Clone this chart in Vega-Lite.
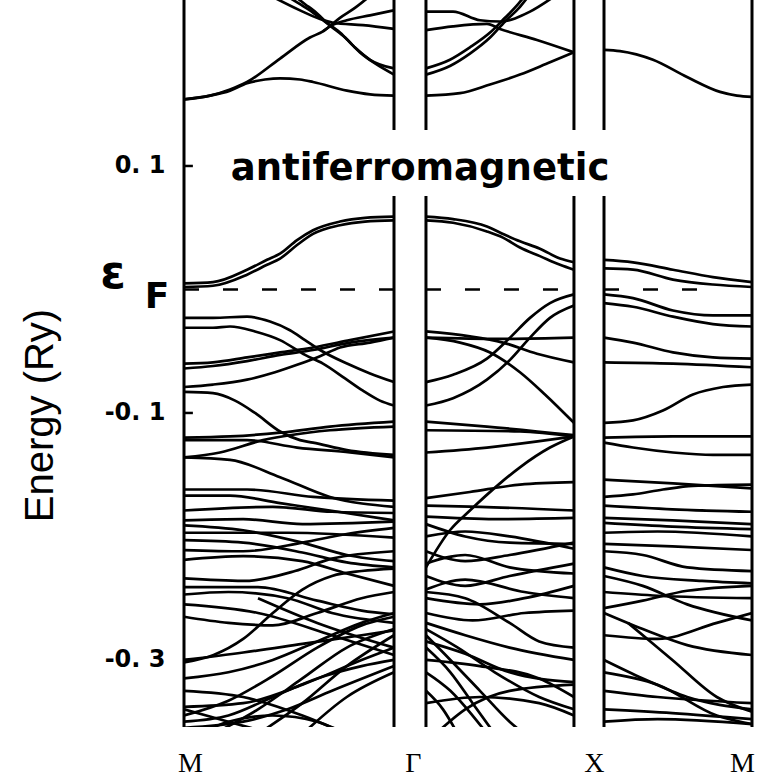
{
 "$schema": "https://vega.github.io/schema/vega-lite/v6.json",
 "width": 568, "height": 727,
 "autosize": {"type": "none"},
 "padding": {"left": 184, "top": 0, "right": 5, "bottom": 53},
 "background": "white",
 "config": {"view": {"stroke": null}},
 "datasets": {
  "bands": [
   {"b":"A1","k":0,"e":0.154},{"b":"A1","k":0.176,"e":0.157},{"b":"A1","k":0.311,"e":0.162},{"b":"A1","k":0.426,"e":0.168},{"b":"A1","k":0.649,"e":0.187},{"b":"A1","k":0.851,"e":0.204},{"b":"A1","k":0.939,"e":0.209},{"b":"A1","k":1.054,"e":0.220},{"b":"A1","k":1.155,"e":0.228},{"b":"A1","k":1.27,"e":0.239},
   {"b":"A6","k":0.939,"e":0.209},{"b":"A6","k":1.0,"e":0.214},{"b":"A6","k":1.1,"e":0.218},{"b":"A6","k":1.257,"e":0.222},{"b":"A6","k":1.419,"e":0.226},
   {"b":"A2","k":0,"e":0.154},{"b":"A2","k":0.176,"e":0.157},{"b":"A2","k":0.311,"e":0.161},{"b":"A2","k":0.426,"e":0.167},{"b":"A2","k":0.547,"e":0.170},{"b":"A2","k":0.649,"e":0.171},{"b":"A2","k":0.784,"e":0.170},{"b":"A2","k":0.872,"e":0.168},{"b":"A2","k":1.101,"e":0.161},{"b":"A2","k":1.257,"e":0.158},{"b":"A2","k":1.419,"e":0.157},
   {"b":"A3","k":0.716,"e":0.236},{"b":"A3","k":0.784,"e":0.231},{"b":"A3","k":0.851,"e":0.226},{"b":"A3","k":0.939,"e":0.218},{"b":"A3","k":1.054,"e":0.208},{"b":"A3","k":1.155,"e":0.196},{"b":"A3","k":1.257,"e":0.186},{"b":"A3","k":1.419,"e":0.179},
   {"b":"A4","k":0.764,"e":0.236},{"b":"A4","k":0.818,"e":0.231},{"b":"A4","k":0.885,"e":0.225},{"b":"A4","k":0.973,"e":0.215},{"b":"A4","k":1.088,"e":0.204},{"b":"A4","k":1.189,"e":0.192},{"b":"A4","k":1.291,"e":0.183},{"b":"A4","k":1.419,"e":0.174},
   {"b":"A5","k":0.615,"e":0.236},{"b":"A5","k":0.784,"e":0.226},{"b":"A5","k":0.919,"e":0.219},{"b":"A5","k":1.007,"e":0.216},{"b":"A5","k":1.209,"e":0.214},{"b":"A5","k":1.419,"e":0.211},
   {"b":"A7","k":0,"e":0.005},{"b":"A7","k":0.196,"e":0.006},{"b":"A7","k":0.426,"e":0.016},{"b":"A7","k":0.561,"e":0.024},{"b":"A7","k":0.649,"e":0.029},{"b":"A7","k":0.764,"e":0.040},{"b":"A7","k":0.872,"e":0.048},{"b":"A7","k":1.054,"e":0.055},{"b":"A7","k":1.223,"e":0.058},{"b":"A7","k":1.419,"e":0.059},
   {"b":"A8","k":0,"e":0.002},{"b":"A8","k":0.196,"e":0.003},{"b":"A8","k":0.426,"e":0.012},{"b":"A8","k":0.561,"e":0.020},{"b":"A8","k":0.649,"e":0.025},{"b":"A8","k":0.764,"e":0.036},{"b":"A8","k":0.872,"e":0.045},{"b":"A8","k":1.054,"e":0.052},{"b":"A8","k":1.223,"e":0.055},{"b":"A8","k":1.419,"e":0.056},
   {"b":"A9","k":0,"e":-0.023},{"b":"A9","k":0.196,"e":-0.023},{"b":"A9","k":0.426,"e":-0.022},{"b":"A9","k":0.581,"e":-0.026},{"b":"A9","k":0.716,"e":-0.033},{"b":"A9","k":0.818,"e":-0.041},{"b":"A9","k":0.919,"e":-0.049},{"b":"A9","k":1.101,"e":-0.060},{"b":"A9","k":1.257,"e":-0.068},{"b":"A9","k":1.419,"e":-0.075},
   {"b":"A10","k":0,"e":-0.031},{"b":"A10","k":0.196,"e":-0.031},{"b":"A10","k":0.311,"e":-0.030},{"b":"A10","k":0.48,"e":-0.034},{"b":"A10","k":0.649,"e":-0.041},{"b":"A10","k":0.818,"e":-0.053},{"b":"A10","k":0.939,"e":-0.060},{"b":"A10","k":1.088,"e":-0.072},{"b":"A10","k":1.209,"e":-0.082},{"b":"A10","k":1.324,"e":-0.090},{"b":"A10","k":1.419,"e":-0.094},
   {"b":"A11","k":0,"e":-0.060},{"b":"A11","k":0.196,"e":-0.059},{"b":"A11","k":0.426,"e":-0.055},{"b":"A11","k":0.649,"e":-0.051},{"b":"A11","k":0.872,"e":-0.047},{"b":"A11","k":1.122,"e":-0.041},{"b":"A11","k":1.419,"e":-0.034},
   {"b":"A12","k":0,"e":-0.064},{"b":"A12","k":0.196,"e":-0.062},{"b":"A12","k":0.426,"e":-0.058},{"b":"A12","k":0.649,"e":-0.053},{"b":"A12","k":0.872,"e":-0.049},{"b":"A12","k":1.122,"e":-0.043},{"b":"A12","k":1.419,"e":-0.039},
   {"b":"A13","k":0,"e":-0.079},{"b":"A13","k":0.196,"e":-0.077},{"b":"A13","k":0.426,"e":-0.073},{"b":"A13","k":0.615,"e":-0.067},{"b":"A13","k":0.764,"e":-0.061},{"b":"A13","k":0.919,"e":-0.054},{"b":"A13","k":1.054,"e":-0.047},{"b":"A13","k":1.257,"e":-0.043},{"b":"A13","k":1.419,"e":-0.039},
   {"b":"A14","k":0,"e":-0.083},{"b":"A14","k":0.196,"e":-0.084},{"b":"A14","k":0.345,"e":-0.090},{"b":"A14","k":0.48,"e":-0.100},{"b":"A14","k":0.649,"e":-0.115},{"b":"A14","k":0.784,"e":-0.122},{"b":"A14","k":0.872,"e":-0.124},{"b":"A14","k":1.101,"e":-0.130},{"b":"A14","k":1.419,"e":-0.134},
   {"b":"A15","k":0,"e":-0.120},{"b":"A15","k":0.311,"e":-0.119},{"b":"A15","k":0.649,"e":-0.116},{"b":"A15","k":0.986,"e":-0.111},{"b":"A15","k":1.419,"e":-0.107},
   {"b":"A16","k":0,"e":-0.122},{"b":"A16","k":0.426,"e":-0.122},{"b":"A16","k":0.764,"e":-0.128},{"b":"A16","k":1.122,"e":-0.132},{"b":"A16","k":1.419,"e":-0.136},
   {"b":"A17","k":0,"e":-0.136},{"b":"A17","k":0.243,"e":-0.132},{"b":"A17","k":0.534,"e":-0.122},{"b":"A17","k":0.986,"e":-0.114},{"b":"A17","k":1.419,"e":-0.111},
   {"b":"A18","k":0,"e":-0.136},{"b":"A18","k":0.311,"e":-0.138},{"b":"A18","k":0.649,"e":-0.152},{"b":"A18","k":0.986,"e":-0.168},{"b":"A18","k":1.419,"e":-0.176},
   {"b":"A19","k":0,"e":-0.162},{"b":"A19","k":0.426,"e":-0.162},{"b":"A19","k":0.872,"e":-0.168},{"b":"A19","k":1.419,"e":-0.171},
   {"b":"A20","k":0,"e":-0.167},{"b":"A20","k":0.311,"e":-0.167},{"b":"A20","k":0.649,"e":-0.173},{"b":"A20","k":0.986,"e":-0.179},{"b":"A20","k":1.419,"e":-0.187},
   {"b":"AL1","k":0,"e":-0.179},{"b":"AL1","k":0.6,"e":-0.176},{"b":"AL1","k":1.0,"e":-0.180},{"b":"AL1","k":1.419,"e":-0.181},
   {"b":"AL2","k":0,"e":-0.187},{"b":"AL2","k":0.4,"e":-0.186},{"b":"AL2","k":0.8,"e":-0.190},{"b":"AL2","k":1.419,"e":-0.188},
   {"b":"AL3","k":0,"e":-0.191},{"b":"AL3","k":0.4,"e":-0.195},{"b":"AL3","k":0.8,"e":-0.205},{"b":"AL3","k":1.1,"e":-0.215},{"b":"AL3","k":1.419,"e":-0.220},
   {"b":"AL4","k":0,"e":-0.197},{"b":"AL4","k":0.7,"e":-0.197},{"b":"AL4","k":1.419,"e":-0.201},
   {"b":"AL5","k":0,"e":-0.203},{"b":"AL5","k":0.4,"e":-0.205},{"b":"AL5","k":0.8,"e":-0.213},{"b":"AL5","k":1.1,"e":-0.221},{"b":"AL5","k":1.419,"e":-0.225},
   {"b":"AL6","k":0,"e":-0.211},{"b":"AL6","k":0.4,"e":-0.212},{"b":"AL6","k":0.8,"e":-0.205},{"b":"AL6","k":1.1,"e":-0.198},{"b":"AL6","k":1.419,"e":-0.193},
   {"b":"AL7","k":0,"e":-0.219},{"b":"AL7","k":0.4,"e":-0.216},{"b":"AL7","k":0.8,"e":-0.220},{"b":"AL7","k":1.1,"e":-0.230},{"b":"AL7","k":1.419,"e":-0.240},
   {"b":"AL8","k":0,"e":-0.234},{"b":"AL8","k":0.4,"e":-0.236},{"b":"AL8","k":0.75,"e":-0.228},{"b":"AL8","k":1.0,"e":-0.218},{"b":"AL8","k":1.419,"e":-0.212},
   {"b":"AL9","k":0,"e":-0.241},{"b":"AL9","k":0.5,"e":-0.241},{"b":"AL9","k":0.9,"e":-0.252},{"b":"AL9","k":1.2,"e":-0.260},{"b":"AL9","k":1.419,"e":-0.263},
   {"b":"AL10","k":0,"e":-0.247},{"b":"AL10","k":0.3,"e":-0.245},{"b":"AL10","k":0.7,"e":-0.250},{"b":"AL10","k":1.0,"e":-0.262},{"b":"AL10","k":1.419,"e":-0.270},
   {"b":"AL11","k":0,"e":-0.302},{"b":"AL11","k":0.2,"e":-0.296},{"b":"AL11","k":0.4,"e":-0.283},{"b":"AL11","k":0.6,"e":-0.262},{"b":"AL11","k":0.8,"e":-0.243},{"b":"AL11","k":1.0,"e":-0.232},{"b":"AL11","k":1.2,"e":-0.228},{"b":"AL11","k":1.419,"e":-0.226},
   {"b":"AL12","k":0,"e":-0.300},{"b":"AL12","k":0.4,"e":-0.294},{"b":"AL12","k":0.8,"e":-0.287},{"b":"AL12","k":1.2,"e":-0.280},{"b":"AL12","k":1.419,"e":-0.276},
   {"b":"AL13","k":0,"e":-0.345},{"b":"AL13","k":0.3,"e":-0.333},{"b":"AL13","k":0.6,"e":-0.313},{"b":"AL13","k":0.9,"e":-0.290},{"b":"AL13","k":1.2,"e":-0.272},{"b":"AL13","k":1.419,"e":-0.265},
   {"b":"AL14","k":0.2,"e":-0.360},{"b":"AL14","k":0.5,"e":-0.340},{"b":"AL14","k":0.8,"e":-0.315},{"b":"AL14","k":1.1,"e":-0.290},{"b":"AL14","k":1.419,"e":-0.275},
   {"b":"AL15","k":0.5,"e":-0.360},{"b":"AL15","k":0.8,"e":-0.335},{"b":"AL15","k":1.1,"e":-0.305},{"b":"AL15","k":1.419,"e":-0.280},
   {"b":"AL16","k":0,"e":-0.338},{"b":"AL16","k":0.4,"e":-0.335},{"b":"AL16","k":0.8,"e":-0.320},{"b":"AL16","k":1.2,"e":-0.300},{"b":"AL16","k":1.419,"e":-0.290},
   {"b":"AL17","k":0,"e":-0.350},{"b":"AL17","k":0.3,"e":-0.345},{"b":"AL17","k":0.6,"e":-0.330},{"b":"AL17","k":0.9,"e":-0.315},{"b":"AL17","k":1.2,"e":-0.305},{"b":"AL17","k":1.419,"e":-0.300},
   {"b":"AL18","k":0.8,"e":-0.360},{"b":"AL18","k":1.1,"e":-0.330},{"b":"AL18","k":1.419,"e":-0.310},
   {"b":"AL19","k":0,"e":-0.340},{"b":"AL19","k":0.3,"e":-0.350},{"b":"AL19","k":0.6,"e":-0.360},
   {"b":"AL20","k":0,"e":-0.325},{"b":"AL20","k":0.4,"e":-0.330},{"b":"AL20","k":0.8,"e":-0.345},{"b":"AL20","k":1.1,"e":-0.360},
   {"b":"AL22","k":0.5,"e":-0.250},{"b":"AL22","k":0.9,"e":-0.270},{"b":"AL22","k":1.419,"e":-0.290},
   {"b":"AL23","k":0,"e":-0.255},{"b":"AL23","k":0.5,"e":-0.262},{"b":"AL23","k":1.0,"e":-0.280},{"b":"AL23","k":1.419,"e":-0.296},
   {"b":"AL24","k":0,"e":-0.315},{"b":"AL24","k":0.3,"e":-0.310},{"b":"AL24","k":0.6,"e":-0.300},{"b":"AL24","k":0.9,"e":-0.285},{"b":"AL24","k":1.2,"e":-0.270},{"b":"AL24","k":1.419,"e":-0.262},
   {"b":"AL25","k":0,"e":-0.355},{"b":"AL25","k":0.4,"e":-0.350},{"b":"AL25","k":0.7,"e":-0.340},{"b":"AL25","k":1.0,"e":-0.325},{"b":"AL25","k":1.419,"e":-0.305},
   {"b":"AL26","k":0.1,"e":-0.360},{"b":"AL26","k":0.3,"e":-0.350},{"b":"AL26","k":0.6,"e":-0.345},{"b":"AL26","k":0.9,"e":-0.350},{"b":"AL26","k":1.1,"e":-0.360},
   {"b":"AL27","k":0,"e":-0.265},{"b":"AL27","k":0.3,"e":-0.270},{"b":"AL27","k":0.6,"e":-0.272},{"b":"AL27","k":0.9,"e":-0.262},{"b":"AL27","k":1.2,"e":-0.250},{"b":"AL27","k":1.419,"e":-0.245},
   {"b":"B1","k":1.635,"e":0.179},{"b":"B1","k":1.797,"e":0.186},{"b":"B1","k":1.932,"e":0.196},{"b":"B1","k":2.068,"e":0.208},{"b":"B1","k":2.169,"e":0.220},{"b":"B1","k":2.25,"e":0.230},{"b":"B1","k":2.291,"e":0.236},
   {"b":"B2","k":1.635,"e":0.174},{"b":"B2","k":1.797,"e":0.181},{"b":"B2","k":1.932,"e":0.191},{"b":"B2","k":2.068,"e":0.204},{"b":"B2","k":2.169,"e":0.217},{"b":"B2","k":2.264,"e":0.228},{"b":"B2","k":2.318,"e":0.236},
   {"b":"B3","k":1.635,"e":0.157},{"b":"B3","k":1.865,"e":0.159},{"b":"B3","k":2.068,"e":0.166},{"b":"B3","k":2.27,"e":0.174},{"b":"B3","k":2.473,"e":0.184},{"b":"B3","k":2.635,"e":0.192},
   {"b":"B4","k":1.635,"e":0.210},{"b":"B4","k":1.818,"e":0.213},{"b":"B4","k":2.047,"e":0.215},{"b":"B4","k":2.135,"e":0.211},{"b":"B4","k":2.385,"e":0.202},{"b":"B4","k":2.635,"e":0.192},
   {"b":"B5","k":1.635,"e":0.225},{"b":"B5","k":1.818,"e":0.225},{"b":"B5","k":2.0,"e":0.218},{"b":"B5","k":2.135,"e":0.217},{"b":"B5","k":2.338,"e":0.225},{"b":"B5","k":2.486,"e":0.236},
   {"b":"B6","k":1.635,"e":0.059},{"b":"B6","k":1.818,"e":0.057},{"b":"B6","k":2.047,"e":0.051},{"b":"B6","k":2.155,"e":0.045},{"b":"B6","k":2.27,"e":0.039},{"b":"B6","k":2.405,"e":0.033},{"b":"B6","k":2.541,"e":0.025},{"b":"B6","k":2.635,"e":0.022},
   {"b":"B7","k":1.635,"e":0.056},{"b":"B7","k":1.818,"e":0.054},{"b":"B7","k":2.047,"e":0.047},{"b":"B7","k":2.155,"e":0.042},{"b":"B7","k":2.27,"e":0.034},{"b":"B7","k":2.405,"e":0.027},{"b":"B7","k":2.541,"e":0.020},{"b":"B7","k":2.635,"e":0.016},
   {"b":"B8","k":1.635,"e":-0.075},{"b":"B8","k":1.818,"e":-0.069},{"b":"B8","k":2.047,"e":-0.056},{"b":"B8","k":2.203,"e":-0.039},{"b":"B8","k":2.338,"e":-0.023},{"b":"B8","k":2.473,"e":-0.011},{"b":"B8","k":2.635,"e":-0.004},
   {"b":"B9","k":1.635,"e":-0.094},{"b":"B9","k":1.818,"e":-0.088},{"b":"B9","k":2.047,"e":-0.073},{"b":"B9","k":2.203,"e":-0.057},{"b":"B9","k":2.338,"e":-0.039},{"b":"B9","k":2.473,"e":-0.023},{"b":"B9","k":2.635,"e":-0.013},
   {"b":"B10","k":1.635,"e":-0.034},{"b":"B10","k":1.932,"e":-0.038},{"b":"B10","k":2.155,"e":-0.043},{"b":"B10","k":2.385,"e":-0.052},{"b":"B10","k":2.635,"e":-0.059},
   {"b":"B10b","k":1.635,"e":-0.039},{"b":"B10b","k":2.135,"e":-0.040},{"b":"B10b","k":2.635,"e":-0.039},
   {"b":"B11","k":1.635,"e":-0.039},{"b":"B11","k":1.865,"e":-0.043},{"b":"B11","k":2.068,"e":-0.051},{"b":"B11","k":2.27,"e":-0.067},{"b":"B11","k":2.439,"e":-0.085},{"b":"B11","k":2.635,"e":-0.108},
   {"b":"B13","k":1.635,"e":-0.107},{"b":"B13","k":2.047,"e":-0.111},{"b":"B13","k":2.635,"e":-0.118},
   {"b":"B14","k":1.635,"e":-0.114},{"b":"B14","k":2.27,"e":-0.115},{"b":"B14","k":2.635,"e":-0.119},
   {"b":"B15","k":1.635,"e":-0.132},{"b":"B15","k":2.047,"e":-0.128},{"b":"B15","k":2.635,"e":-0.119},
   {"b":"B16","k":1.635,"e":-0.225},{"b":"B16","k":1.797,"e":-0.195},{"b":"B16","k":1.932,"e":-0.179},{"b":"B16","k":2.135,"e":-0.157},{"b":"B16","k":2.27,"e":-0.144},{"b":"B16","k":2.473,"e":-0.128},{"b":"B16","k":2.635,"e":-0.119},
   {"b":"B17","k":1.635,"e":-0.169},{"b":"B17","k":1.932,"e":-0.164},{"b":"B17","k":2.27,"e":-0.158},{"b":"B17","k":2.635,"e":-0.156},
   {"b":"BL1","k":1.635,"e":-0.175},{"b":"BL1","k":2.0,"e":-0.176},{"b":"BL1","k":2.635,"e":-0.179},
   {"b":"BL2","k":1.635,"e":-0.184},{"b":"BL2","k":2.1,"e":-0.186},{"b":"BL2","k":2.635,"e":-0.185},
   {"b":"BL3","k":1.635,"e":-0.190},{"b":"BL3","k":1.9,"e":-0.200},{"b":"BL3","k":2.2,"e":-0.205},{"b":"BL3","k":2.635,"e":-0.206},
   {"b":"BL4","k":1.635,"e":-0.200},{"b":"BL4","k":1.9,"e":-0.196},{"b":"BL4","k":2.2,"e":-0.200},{"b":"BL4","k":2.635,"e":-0.210},
   {"b":"BL5","k":1.635,"e":-0.212},{"b":"BL5","k":1.9,"e":-0.220},{"b":"BL5","k":2.2,"e":-0.215},{"b":"BL5","k":2.635,"e":-0.205},
   {"b":"BL6","k":1.635,"e":-0.222},{"b":"BL6","k":1.9,"e":-0.215},{"b":"BL6","k":2.2,"e":-0.225},{"b":"BL6","k":2.635,"e":-0.230},
   {"b":"BL7","k":1.635,"e":-0.232},{"b":"BL7","k":1.9,"e":-0.240},{"b":"BL7","k":2.2,"e":-0.232},{"b":"BL7","k":2.635,"e":-0.222},
   {"b":"BL8","k":1.635,"e":-0.243},{"b":"BL8","k":1.9,"e":-0.235},{"b":"BL8","k":2.3,"e":-0.245},{"b":"BL8","k":2.635,"e":-0.250},
   {"b":"BL9","k":1.635,"e":-0.250},{"b":"BL9","k":2.0,"e":-0.255},{"b":"BL9","k":2.3,"e":-0.250},{"b":"BL9","k":2.635,"e":-0.240},
   {"b":"BL10","k":1.635,"e":-0.262},{"b":"BL10","k":1.95,"e":-0.268},{"b":"BL10","k":2.3,"e":-0.262},{"b":"BL10","k":2.635,"e":-0.260},
   {"b":"BL11","k":1.635,"e":-0.270},{"b":"BL11","k":1.9,"e":-0.280},{"b":"BL11","k":2.2,"e":-0.290},{"b":"BL11","k":2.635,"e":-0.300},
   {"b":"BL12","k":1.635,"e":-0.275},{"b":"BL12","k":1.85,"e":-0.290},{"b":"BL12","k":2.1,"e":-0.310},{"b":"BL12","k":2.4,"e":-0.330},{"b":"BL12","k":2.635,"e":-0.340},
   {"b":"BL13","k":1.635,"e":-0.280},{"b":"BL13","k":1.8,"e":-0.300},{"b":"BL13","k":2.0,"e":-0.325},{"b":"BL13","k":2.2,"e":-0.350},{"b":"BL13","k":2.3,"e":-0.360},
   {"b":"BL14","k":1.635,"e":-0.285},{"b":"BL14","k":1.9,"e":-0.295},{"b":"BL14","k":2.2,"e":-0.310},{"b":"BL14","k":2.635,"e":-0.318},
   {"b":"BL15","k":1.635,"e":-0.290},{"b":"BL15","k":1.8,"e":-0.310},{"b":"BL15","k":1.95,"e":-0.335},{"b":"BL15","k":2.1,"e":-0.360},
   {"b":"BL16","k":1.635,"e":-0.310},{"b":"BL16","k":1.8,"e":-0.325},{"b":"BL16","k":1.95,"e":-0.345},{"b":"BL16","k":2.05,"e":-0.360},
   {"b":"BL17","k":1.635,"e":-0.325},{"b":"BL17","k":1.75,"e":-0.340},{"b":"BL17","k":1.85,"e":-0.360},
   {"b":"BL18","k":1.635,"e":-0.300},{"b":"BL18","k":2.0,"e":-0.305},{"b":"BL18","k":2.4,"e":-0.315},{"b":"BL18","k":2.635,"e":-0.330},
   {"b":"BL19","k":1.635,"e":-0.335},{"b":"BL19","k":2.0,"e":-0.330},{"b":"BL19","k":2.4,"e":-0.335},{"b":"BL19","k":2.635,"e":-0.345},
   {"b":"BL20","k":1.635,"e":-0.245},{"b":"BL20","k":1.9,"e":-0.250},{"b":"BL20","k":2.2,"e":-0.270},{"b":"BL20","k":2.4,"e":-0.285},{"b":"BL20","k":2.635,"e":-0.290},
   {"b":"BL21","k":1.7,"e":-0.360},{"b":"BL21","k":1.9,"e":-0.340},{"b":"BL21","k":2.2,"e":-0.325},{"b":"BL21","k":2.635,"e":-0.320},
   {"b":"C1","k":2.838,"e":0.194},{"b":"C1","k":2.946,"e":0.193},{"b":"C1","k":3.169,"e":0.186},{"b":"C1","k":3.399,"e":0.172},{"b":"C1","k":3.622,"e":0.160},{"b":"C1","k":3.736,"e":0.157},{"b":"C1","k":3.838,"e":0.156},
   {"b":"C2","k":2.838,"e":0.024},{"b":"C2","k":3.034,"e":0.022},{"b":"C2","k":3.304,"e":0.016},{"b":"C2","k":3.574,"e":0.010},{"b":"C2","k":3.838,"e":0.006},
   {"b":"C3","k":2.838,"e":0.017},{"b":"C3","k":3.034,"e":0.016},{"b":"C3","k":3.304,"e":0.008},{"b":"C3","k":3.574,"e":0.004},{"b":"C3","k":3.838,"e":0.002},
   {"b":"C4","k":2.838,"e":-0.004},{"b":"C4","k":3.034,"e":-0.007},{"b":"C4","k":3.304,"e":-0.017},{"b":"C4","k":3.574,"e":-0.021},{"b":"C4","k":3.838,"e":-0.021},
   {"b":"C5","k":2.838,"e":-0.011},{"b":"C5","k":3.034,"e":-0.014},{"b":"C5","k":3.304,"e":-0.022},{"b":"C5","k":3.574,"e":-0.028},{"b":"C5","k":3.838,"e":-0.030},
   {"b":"C6","k":2.838,"e":-0.039},{"b":"C6","k":3.034,"e":-0.043},{"b":"C6","k":3.304,"e":-0.051},{"b":"C6","k":3.574,"e":-0.055},{"b":"C6","k":3.838,"e":-0.056},
   {"b":"C7","k":2.838,"e":-0.059},{"b":"C7","k":3.304,"e":-0.060},{"b":"C7","k":3.838,"e":-0.063},
   {"b":"C8","k":2.838,"e":-0.108},{"b":"C8","k":3.034,"e":-0.106},{"b":"C8","k":3.236,"e":-0.098},{"b":"C8","k":3.439,"e":-0.085},{"b":"C8","k":3.642,"e":-0.079},{"b":"C8","k":3.838,"e":-0.077},
   {"b":"C9","k":2.838,"e":-0.120},{"b":"C9","k":3.304,"e":-0.119},{"b":"C9","k":3.838,"e":-0.119},
   {"b":"C10","k":2.838,"e":-0.124},{"b":"C10","k":3.034,"e":-0.128},{"b":"C10","k":3.304,"e":-0.132},{"b":"C10","k":3.574,"e":-0.134},{"b":"C10","k":3.838,"e":-0.134},
   {"b":"C11","k":2.838,"e":-0.154},{"b":"C11","k":3.304,"e":-0.157},{"b":"C11","k":3.838,"e":-0.161},
   {"b":"C12","k":2.838,"e":-0.168},{"b":"C12","k":3.034,"e":-0.166},{"b":"C12","k":3.236,"e":-0.162},{"b":"C12","k":3.439,"e":-0.159},{"b":"C12","k":3.838,"e":-0.158},
   {"b":"CL1","k":2.838,"e":-0.175},{"b":"CL1","k":3.3,"e":-0.178},{"b":"CL1","k":3.838,"e":-0.180},
   {"b":"CL2","k":2.838,"e":-0.185},{"b":"CL2","k":3.3,"e":-0.187},{"b":"CL2","k":3.838,"e":-0.190},
   {"b":"CL3","k":2.838,"e":-0.189},{"b":"CL3","k":3.3,"e":-0.192},{"b":"CL3","k":3.838,"e":-0.194},
   {"b":"CL4","k":2.838,"e":-0.197},{"b":"CL4","k":3.2,"e":-0.196},{"b":"CL4","k":3.838,"e":-0.200},
   {"b":"CL5","k":2.838,"e":-0.206},{"b":"CL5","k":3.3,"e":-0.208},{"b":"CL5","k":3.838,"e":-0.211},
   {"b":"CL6","k":2.838,"e":-0.212},{"b":"CL6","k":3.1,"e":-0.215},{"b":"CL6","k":3.4,"e":-0.225},{"b":"CL6","k":3.838,"e":-0.228},
   {"b":"CL7","k":2.838,"e":-0.225},{"b":"CL7","k":3.1,"e":-0.232},{"b":"CL7","k":3.5,"e":-0.236},{"b":"CL7","k":3.838,"e":-0.238},
   {"b":"CL8","k":2.838,"e":-0.258},{"b":"CL8","k":3.1,"e":-0.252},{"b":"CL8","k":3.4,"e":-0.244},{"b":"CL8","k":3.838,"e":-0.240},
   {"b":"CL9","k":2.838,"e":-0.262},{"b":"CL9","k":3.1,"e":-0.275},{"b":"CL9","k":3.4,"e":-0.288},{"b":"CL9","k":3.838,"e":-0.296},
   {"b":"CL10","k":2.838,"e":-0.300},{"b":"CL10","k":3.1,"e":-0.315},{"b":"CL10","k":3.4,"e":-0.330},{"b":"CL10","k":3.838,"e":-0.340},
   {"b":"CL11","k":2.838,"e":-0.325},{"b":"CL11","k":3.2,"e":-0.330},{"b":"CL11","k":3.838,"e":-0.335},
   {"b":"CL12","k":3.0,"e":-0.270},{"b":"CL12","k":3.3,"e":-0.300},{"b":"CL12","k":3.6,"e":-0.330},{"b":"CL12","k":3.838,"e":-0.342},
   {"b":"CL13","k":2.838,"e":-0.340},{"b":"CL13","k":3.3,"e":-0.343},{"b":"CL13","k":3.838,"e":-0.348},
   {"b":"CL14","k":2.838,"e":-0.350},{"b":"CL14","k":3.2,"e":-0.348},{"b":"CL14","k":3.838,"e":-0.352},
   {"b":"CL15","k":2.838,"e":-0.245},{"b":"CL15","k":3.2,"e":-0.248},{"b":"CL15","k":3.838,"e":-0.250},
   {"b":"CL16","k":2.838,"e":-0.280},{"b":"CL16","k":3.2,"e":-0.283},{"b":"CL16","k":3.6,"e":-0.270},{"b":"CL16","k":3.838,"e":-0.262},
   {"b":"CL17","k":2.838,"e":-0.232},{"b":"CL17","k":3.1,"e":-0.240},{"b":"CL17","k":3.4,"e":-0.255},{"b":"CL17","k":3.838,"e":-0.268},
   {"b":"CL18","k":2.838,"e":-0.310},{"b":"CL18","k":3.2,"e":-0.320},{"b":"CL18","k":3.6,"e":-0.345},{"b":"CL18","k":3.838,"e":-0.352}
  ],
  "edges": [{"k":0},{"k":1.419},{"k":1.635},{"k":2.635},{"k":2.838},{"k":3.838}],
  "gaps": [{"k":1.419,"k2":1.635},{"k":2.635,"k2":2.838}],
  "fermi": [{"k":0,"k2":1.419,"e":0},{"k":1.635,"k2":2.635,"e":0},{"k":2.838,"k2":3.49,"e":0}],
  "ticks": [{"k":0,"k2":0.06,"e":0.1},{"k":0,"k2":0.06,"e":-0.1},{"k":0,"k2":0.06,"e":-0.3}],
  "box": [{"k":0.108,"k2":2.93,"e":0.1291,"e2":0.0757}],
  "label": [{"t":"antiferromagnetic","k":1.595,"e":0.0887}],
  "eps": [{"t":"ε","k":-0.48,"e":0.0015}],
  "fsub": [{"t":"F","k":-0.182,"e":-0.015}]
 },
 "layer": [
  {
   "data": {"name": "bands"},
   "mark": {"type": "line", "interpolate": "monotone", "strokeWidth": 2.7, "color": "black", "clip": true},
   "encoding": {
    "x": {"field": "k", "type": "quantitative", "scale": {"domain": [0, 3.838], "nice": false, "zero": false},
     "axis": {"values": [0.04, 1.547, 2.77, 3.77], "labelExpr": "datum.value < 1 ? 'M' : datum.value < 2 ? 'Γ' : datum.value < 3 ? 'X' : 'M'", "domain": false, "ticks": false, "grid": false, "title": null, "labelFont": "Liberation Serif", "labelFontSize": 28, "labelPadding": 22, "labelColor": "black", "labelFlush": false}},
    "y": {"field": "e", "type": "quantitative", "scale": {"domain": [-0.3543, 0.2344], "nice": false, "zero": false},
     "axis": {"values": [0.1, -0.1, -0.3], "labelExpr": "datum.value > 0 ? '0. 1' : datum.value > -0.2 ? '-0. 1' : '-0. 3'", "domain": false, "ticks": false, "grid": false, "labelFont": "DejaVu Sans", "labelFontSize": 24, "labelFontWeight": "bold", "labelPadding": 19, "labelColor": "black", "title": "Energy (Ry)", "titleFont": "Liberation Sans", "titleFontSize": 40, "titleFontWeight": "normal", "titleColor": "black", "titleX": -144, "titleY": 415, "titleAngle": -90, "titleAlign": "center", "titleBaseline": "middle"}},
    "detail": {"field": "b"}
   }
  },
  {
   "data": {"name": "fermi"},
   "mark": {"type": "rule", "strokeWidth": 2.5, "strokeDash": [15, 24], "color": "black"},
   "encoding": {"x": {"field": "k", "type": "quantitative"}, "x2": {"field": "k2"}, "y": {"field": "e", "type": "quantitative"}}
  },
  {
   "data": {"name": "gaps"},
   "mark": {"type": "rect", "color": "white"},
   "encoding": {"x": {"field": "k", "type": "quantitative"}, "x2": {"field": "k2"}, "y": {"datum": 0.2344, "type": "quantitative"}, "y2": {"datum": -0.3543}}
  },
  {
   "data": {"name": "edges"},
   "mark": {"type": "rule", "strokeWidth": 3, "color": "black"},
   "encoding": {"x": {"field": "k", "type": "quantitative"}}
  },
  {
   "data": {"name": "ticks"},
   "mark": {"type": "rule", "strokeWidth": 2.5, "color": "black"},
   "encoding": {"x": {"field": "k", "type": "quantitative"}, "x2": {"field": "k2"}, "y": {"field": "e", "type": "quantitative"}}
  },
  {
   "data": {"name": "box"},
   "mark": {"type": "rect", "color": "white"},
   "encoding": {"x": {"field": "k", "type": "quantitative"}, "x2": {"field": "k2"}, "y": {"field": "e", "type": "quantitative"}, "y2": {"field": "e2"}}
  },
  {
   "data": {"name": "label"},
   "mark": {"type": "text", "font": "DejaVu Sans", "fontWeight": "bold", "fontSize": 37, "align": "center", "baseline": "alphabetic", "color": "black"},
   "encoding": {"x": {"field": "k", "type": "quantitative"}, "y": {"field": "e", "type": "quantitative"}, "text": {"field": "t"}}
  },
  {
   "data": {"name": "eps"},
   "mark": {"type": "text", "font": "DejaVu Sans", "fontWeight": "bold", "fontSize": 46, "align": "center", "baseline": "alphabetic", "color": "black"},
   "encoding": {"x": {"field": "k", "type": "quantitative"}, "y": {"field": "e", "type": "quantitative"}, "text": {"field": "t"}}
  },
  {
   "data": {"name": "fsub"},
   "mark": {"type": "text", "font": "DejaVu Sans", "fontWeight": "bold", "fontSize": 36, "align": "center", "baseline": "alphabetic", "color": "black"},
   "encoding": {"x": {"field": "k", "type": "quantitative"}, "y": {"field": "e", "type": "quantitative"}, "text": {"field": "t"}}
  }
 ]
}
